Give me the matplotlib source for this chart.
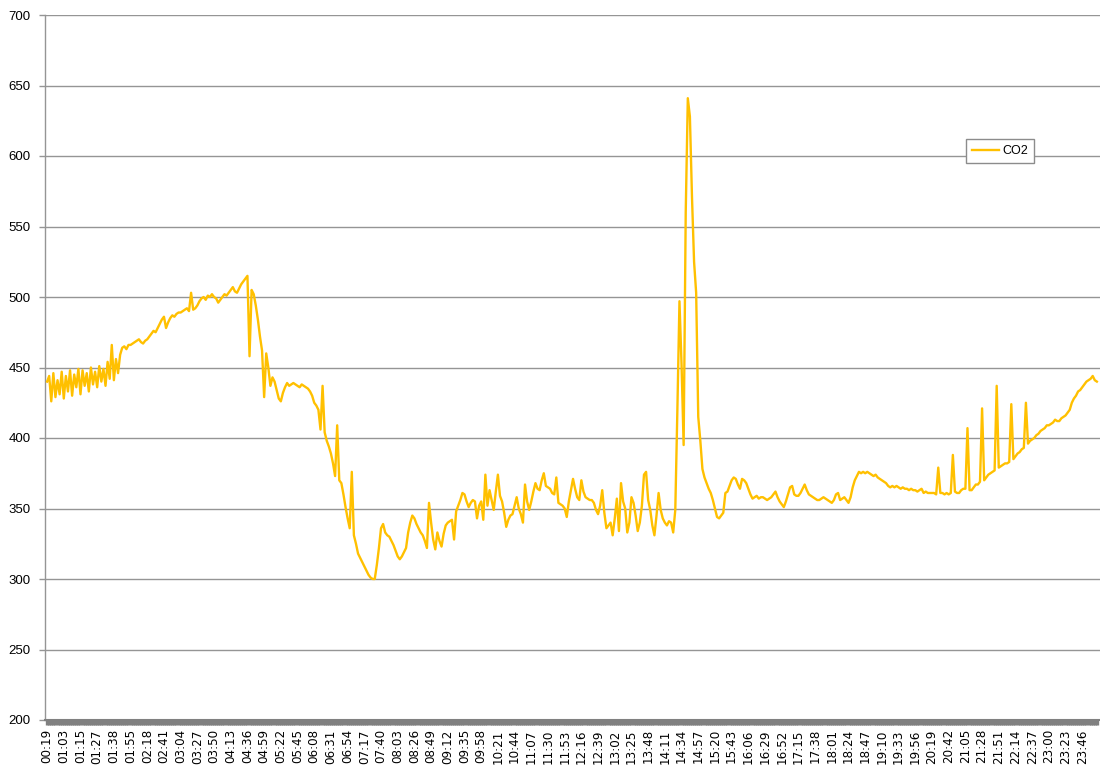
import matplotlib
matplotlib.use("Agg")
import matplotlib.pyplot as plt
import numpy as np

# Category labels shown on the x axis (one label every 8 samples)
time_labels = ["00:19", "01:03", "01:15", "01:27", "01:38", "01:55", "02:18", "02:41",
               "03:04", "03:27", "03:50", "04:13", "04:36", "04:59", "05:22", "05:45",
               "06:08", "06:31", "06:54", "07:17", "07:40", "08:03", "08:26", "08:49",
               "09:12", "09:35", "09:58", "10:21", "10:44", "11:07", "11:30", "11:53",
               "12:16", "12:39", "13:02", "13:25", "13:48", "14:11", "14:34", "14:57",
               "15:20", "15:43", "16:06", "16:29", "16:52", "17:15", "17:38", "18:01",
               "18:24", "18:47", "19:10", "19:33", "19:56", "20:19", "20:42", "21:05",
               "21:28", "21:51", "22:14", "22:37", "23:00", "23:23", "23:46"]
samples_per_label = 8

# CO2 readings (ppm), 8 samples per labelled interval
co2 = [
    440, 444, 426, 446, 429, 441, 431, 447,
    428, 444, 433, 448, 430, 445, 436, 449,
    431, 448, 437, 446, 433, 450, 438, 447,
    436, 451, 440, 449, 437, 454, 442, 466,
    441, 456, 446, 459, 464, 465, 463, 466,
    466, 467, 468, 469, 470, 468, 467, 469,
    470, 472, 474, 476, 475, 478, 481, 484,
    486, 478, 482, 485, 487, 486, 488, 489,
    489, 490, 491, 492, 490, 503, 491, 492,
    494, 497, 499, 500, 498, 501, 500, 502,
    500, 499, 496, 498, 500, 502, 501, 503,
    505, 507, 504, 503, 506, 509, 511, 513,
    515, 458, 505, 502, 494, 484, 472, 462,
    429, 460, 450, 437, 443, 440, 434, 428,
    426, 432, 436, 439, 437, 438, 439, 438,
    437, 436, 438, 437, 436, 435, 433, 430,
    425, 423, 420, 406, 437, 404, 398, 394,
    389, 382, 373, 409, 370, 368, 360, 351,
    343, 336, 376, 331, 325, 318, 315, 312,
    309, 306, 303, 301, 300, 300, 310, 322,
    336, 339, 333, 331, 330, 327, 324, 320,
    316, 314, 316, 319, 322, 333, 340, 345,
    343, 339, 336, 333, 331, 327, 322, 354,
    340, 328, 321, 333, 327, 323, 332, 338,
    340, 341, 342, 328, 348, 352, 356, 361,
    360, 355, 351, 354, 356, 355, 343, 352,
    355, 342, 374, 352, 363, 356, 349, 362,
    374, 359, 355, 347, 337, 342, 345, 346,
    352, 358, 350, 346, 340, 367, 355, 349,
    355, 362, 368, 364, 363, 370, 375, 366,
    365, 364, 361, 360, 372, 354, 353, 352,
    350, 344, 355, 363, 371, 364, 358, 356,
    370, 362, 358, 357, 356, 356, 354, 349,
    346, 352, 363, 347, 336, 338, 340, 331,
    343, 357, 334, 368, 355, 350, 333, 340,
    358, 354, 345, 334, 340, 352, 374, 376,
    356, 349, 338, 331, 345, 361, 349, 343,
    340, 338, 341, 340, 333, 349, 420, 497,
    452, 395, 560, 641, 628, 571, 525, 503,
    415, 398, 378, 372, 368, 364, 361, 356,
    350, 344, 343, 345, 347, 361, 362, 366,
    370, 372, 371, 367, 364, 371, 370, 368,
    364, 360, 357, 358, 359, 357, 358, 358,
    357, 356, 357, 358, 360, 362, 358, 355,
    353, 351, 355, 360, 365, 366, 360, 359,
    359, 361, 364, 367, 363, 360, 359, 358,
    357, 356, 356, 357, 358, 357, 356, 355,
    354, 356, 360, 361, 356, 357, 358, 356,
    354, 358, 365, 370, 373, 376, 375, 376,
    375, 376, 375, 374, 373, 374, 372, 371,
    370, 369, 368, 366, 365, 366, 365, 366,
    365, 364, 365, 364, 364, 363, 364, 363,
    363, 362, 363, 364, 361, 362, 361, 361,
    361, 361, 360, 379, 361, 361, 360, 361,
    360, 361, 388, 362, 361, 361, 363, 364,
    364, 407, 363, 363, 365, 367, 367, 369,
    421, 370, 372, 374, 375, 376, 377, 437,
    379, 380, 381, 382, 382, 383, 424, 385,
    387, 389, 390, 392, 393, 425, 396, 398,
    399, 400, 402, 403, 405, 406, 407, 409,
    409, 410, 411, 413, 412, 412, 414, 415,
    416, 418, 420, 425, 428, 430, 433, 434,
    436, 438, 440, 441, 442, 444, 441, 440,
]

y_ticks = [200, 250, 300, 350, 400, 450, 500, 550, 600, 650, 700]

line_color = "#FFC000"
grid_color = "#959595"
band_color = "#808080"

fig = plt.figure(figsize=(11.0, 7.71), dpi=100)
ax = fig.add_axes([45 / 1100, 1 - 720 / 771, 1 - 45 / 1100, (720 - 15) / 771])

x = np.arange(len(co2))
ax.plot(x, co2, color=line_color, linewidth=1.7, label="CO2", zorder=3)

ax.set_ylim(200, 700)
ax.set_xlim(-1, len(co2) + 0.5)
ax.set_yticks(y_ticks)
ax.set_yticklabels([str(v) for v in y_ticks], fontfamily="Liberation Sans", fontsize=9.5)
ax.grid(axis="y", color=grid_color, linewidth=1.0)
ax.set_axisbelow(True)

major_pos = [i * samples_per_label for i in range(len(time_labels))]
ax.set_xticks(major_pos)
ax.set_xticklabels(time_labels, rotation=90, fontfamily="DejaVu Sans", fontsize=8.6)
ax.set_xticks(x, minor=True)
ax.tick_params(axis="x", which="both", direction="out", length=3.6, width=2.4,
               color=band_color, pad=3)
ax.tick_params(axis="y", direction="out", length=4.5, width=1.0, color=grid_color, pad=6)

for side in ["top", "right"]:
    ax.spines[side].set_visible(False)
ax.spines["left"].set_color(grid_color)
ax.spines["left"].set_linewidth(1.0)
ax.spines["bottom"].set_color(band_color)
ax.spines["bottom"].set_linewidth(1.5)

leg = ax.legend(loc="center", bbox_to_anchor=(0.905, 0.807), frameon=True, fancybox=False,
                prop={"family": "Liberation Sans", "size": 9}, handlelength=2.2,
                handletextpad=0.2, borderpad=0.5, borderaxespad=0)
leg.get_frame().set_edgecolor("#8c8c8c")
leg.get_frame().set_linewidth(1.0)
leg.get_frame().set_alpha(1.0)

fig.savefig("out.png", dpi=100)
